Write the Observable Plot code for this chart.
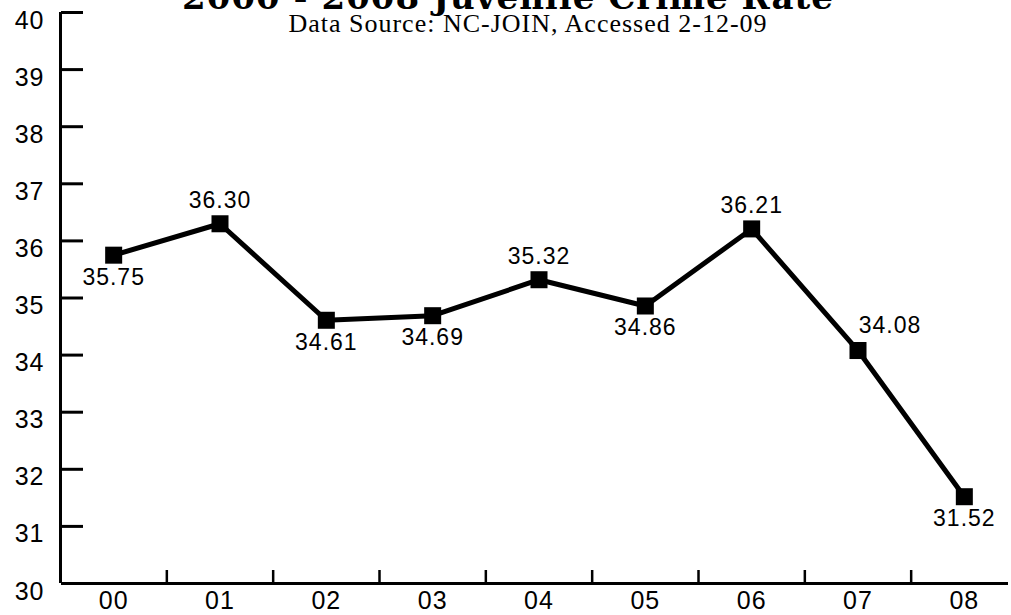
<!DOCTYPE html>
<html><head><meta charset="utf-8">
<script src="https://cdn.jsdelivr.net/npm/d3@7"></script>
<script src="https://cdn.jsdelivr.net/npm/@observablehq/plot@0.6"></script>
<style>
body{margin:0;background:#fff}
svg{display:block}
g[aria-label="title"] text, g[aria-label="subtitle"] text{letter-spacing:0}
</style>
</head><body><div id="chart"></div>
<script>
const years = ["00","01","02","03","04","05","06","07","08"];
const rates = [35.75, 36.30, 34.61, 34.69, 35.32, 34.86, 36.21, 34.08, 31.52];
const rateLabels = ["35.75","36.30","34.61","34.69","35.32","34.86","36.21","34.08","31.52"];
const labelPlacement = ["below","above","below","below","above","below","above","aboveRight","below"];
const yTicks = [30,31,32,33,34,35,36,37,38,39,40];
const title = "2000 - 2008 Juvenile Crime Rate";
const subtitle = "Data Source: NC-JOIN, Accessed 2-12-09";

const data = years.map((y, i) => ({i, year: y, rate: rates[i], label: rateLabels[i], place: labelPlacement[i]}));
const xIdx = d3.range(years.length);
const bandEdges = d3.range(years.length - 1).map(i => i + 0.5);

const chart = Plot.plot({
  width: 1011,
  height: 615,
  marginTop: 12,
  marginBottom: 32,
  marginLeft: 61,
  marginRight: 3,
  style: {fontFamily: "'Liberation Sans', Arial, sans-serif", letterSpacing: "0.1em", color: "black", background: "white"},
  x: {domain: [-0.5, years.length - 0.5], range: [60, 1017], axis: null},
  y: {domain: [30, 40], axis: null},
  marks: [
    Plot.ruleX([-0.5], {y1: 30, y2: 40, strokeWidth: 3}),
    Plot.ruleY([30], {strokeWidth: 3}),
    Plot.axisY({ticks: yTicks, tickSize: -22, strokeWidth: 3, tickFormat: () => "", label: null}),
    Plot.axisY({ticks: yTicks, tickSize: 0, tickPadding: 17, dy: 8, fontSize: 25, label: null}),
    Plot.axisX({ticks: bandEdges, tickSize: -13, strokeWidth: 2.5, tickFormat: () => "", label: null}),
    Plot.axisX({ticks: xIdx, tickSize: 0, tickPadding: 8, fontSize: 25, tickFormat: i => years[i], label: null}),
    Plot.line(data, {x: "i", y: "rate", stroke: "black", strokeWidth: 5, strokeLinejoin: "miter"}),
    Plot.dot(data, {x: "i", y: "rate", symbol: "square", r: 9.6, fill: "black"}),
    Plot.text(data.filter(d => d.place === "above"), {x: "i", y: "rate", text: "label", dy: -23, fontSize: 23, lineAnchor: "middle"}),
    Plot.text(data.filter(d => d.place === "below"), {x: "i", y: "rate", text: "label", dy: 22, fontSize: 23, lineAnchor: "middle"}),
    Plot.text(data.filter(d => d.place === "aboveRight"), {x: "i", y: "rate", text: "label", dx: 32, dy: -25, fontSize: 23, lineAnchor: "middle"}),
    Plot.text([title], {frameAnchor: "top", dx: -27, dy: -4, lineAnchor: "bottom", fontSize: 34, fontWeight: "bold", fontFamily: "'DejaVu Serif', serif", ariaLabel: "title"}),
    Plot.text([subtitle], {frameAnchor: "top", dx: -7, dy: 19, lineAnchor: "bottom", fontSize: 26, fontFamily: "'Liberation Serif', serif", ariaLabel: "subtitle"})
  ]
});
document.getElementById("chart").appendChild(chart);
</script>
</body></html>
